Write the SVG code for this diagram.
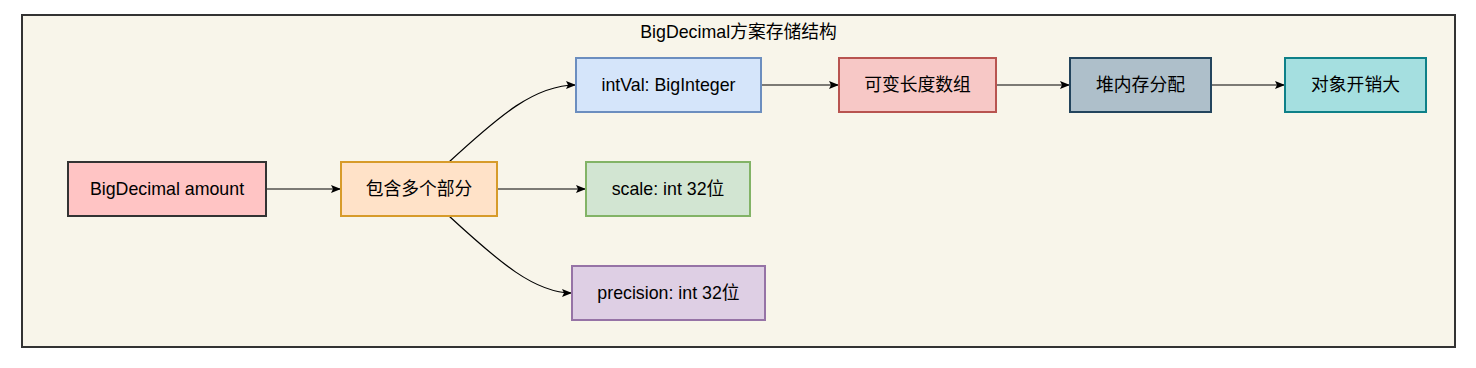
<svg xmlns="http://www.w3.org/2000/svg" width="1476" height="368" viewBox="0 0 1476 368">
<defs>
<style>
text{font-family:"Liberation Sans","Noto Sans CJK SC",sans-serif;font-size:17.8px;fill:#000;text-anchor:middle;dominant-baseline:central}
.n{stroke-width:2}
.e{fill:none;stroke:#000;stroke-width:1.2;marker-end:url(#arr)}
</style>
<marker id="arr" viewBox="0 0 10 8" refX="10" refY="4" markerWidth="10" markerHeight="8" markerUnits="userSpaceOnUse" orient="auto">
<path d="M0,0 L10,4 L0,8 L2,4 z" fill="#000"/>
</marker>
</defs>
<rect id="container" x="22" y="15" width="1433" height="332" fill="#f8f5ea" stroke="#333" stroke-width="2"/>
<text x="738.5" y="32">BigDecimal方案存储结构</text>
<g id="connectors">
<path class="e" d="M266,189 L341,189"/>
<path class="e" d="M497,189 L586,189"/>
<path class="e" d="M449,162 C500,115 535,85 576,85"/>
<path class="e" d="M449,216 C500,263 535,293 572,293"/>
<path class="e" d="M761,85 L839,85"/>
<path class="e" d="M996,85 L1070,85"/>
<path class="e" d="M1211,85 L1285,85"/>
</g>
<g id="n-amount"><rect class="n" x="68" y="162" width="198" height="54" fill="#ffc4c4" stroke="#333"/><text x="167" y="189">BigDecimal amount</text></g>
<g id="n-parts"><rect class="n" x="341" y="162" width="156" height="54" fill="#ffe2c8" stroke="#d79b2a"/><text x="419" y="189">包含多个部分</text></g>
<g id="n-intval"><rect class="n" x="576" y="58" width="185" height="54" fill="#d5e5fa" stroke="#6c8ebf"/><text x="668.5" y="85">intVal: BigInteger</text></g>
<g id="n-scale"><rect class="n" x="586" y="162" width="164" height="54" fill="#d2e5d2" stroke="#82b366"/><text x="668" y="189">scale: int 32位</text></g>
<g id="n-precision"><rect class="n" x="572" y="266" width="193" height="54" fill="#decfe4" stroke="#9673a6"/><text x="668.5" y="293">precision: int 32位</text></g>
<g id="n-array"><rect class="n" x="839" y="58" width="157" height="54" fill="#f7c8c6" stroke="#b85450"/><text x="917.5" y="85">可变长度数组</text></g>
<g id="n-heap"><rect class="n" x="1070" y="58" width="141" height="54" fill="#aebfca" stroke="#23445d"/><text x="1140.5" y="85">堆内存分配</text></g>
<g id="n-cost"><rect class="n" x="1285" y="58" width="141" height="54" fill="#a5dfe0" stroke="#0e8088"/><text x="1355.5" y="85">对象开销大</text></g>
</svg>
